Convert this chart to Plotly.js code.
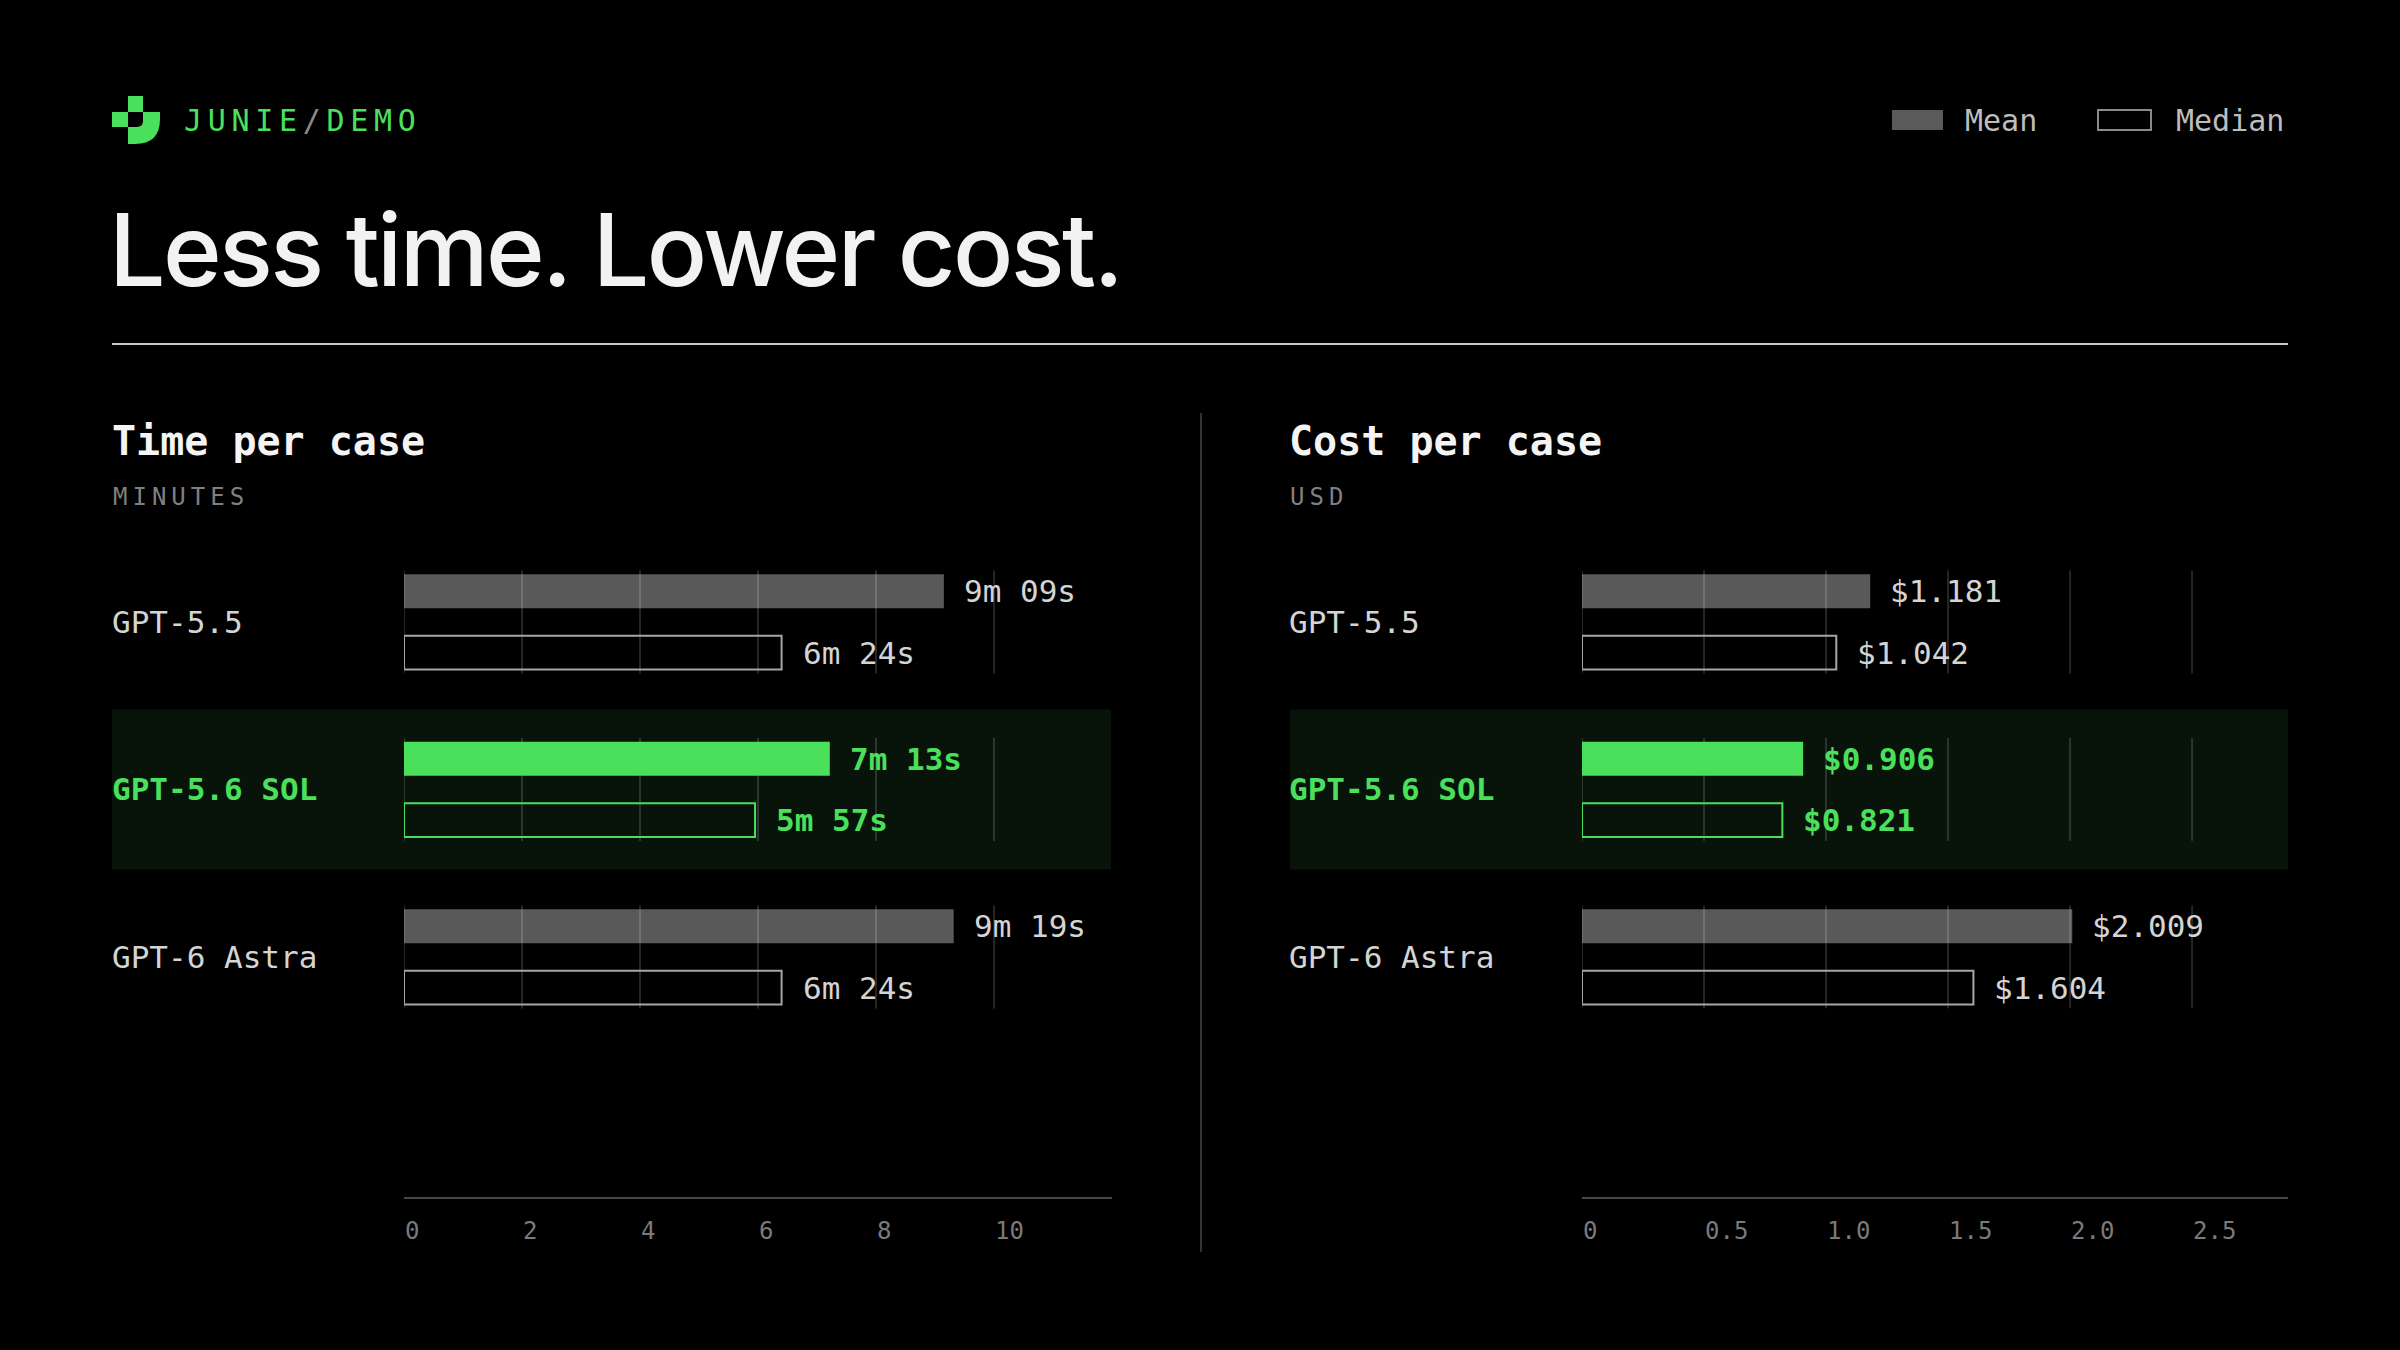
<!DOCTYPE html>
<html>
<head>
<meta charset="utf-8">
<script src="https://cdn.plot.ly/plotly-3.0.1.min.js"></script>
<style>
  html, body { margin: 0; padding: 0; background: #000; }
  #chart { width: 2400px; height: 1350px; }
</style>
</head>
<body>
<div id="chart"></div>
<script>
// ---------- data ----------
const models = ["GPT-5.5", "GPT-5.6 SOL", "GPT-6 Astra"];
const highlightModel = "GPT-5.6 SOL";
const timeMeanSec = [549, 433, 559];     // 9m09s, 7m13s, 9m19s
const timeMedianSec = [384, 357, 384];   // 6m24s, 5m57s, 6m24s
const costMean = [1.181, 0.906, 2.009];
const costMedian = [1.042, 0.821, 1.604];
const timeTicks = [0, 2, 4, 6, 8, 10];
const timeTickText = ["0", "2", "4", "6", "8", "10"];
const costTicks = [0, 0.5, 1.0, 1.5, 2.0, 2.5];
const costTickText = ["0", "0.5", "1.0", "1.5", "2.0", "2.5"];
const timeRange = [0, 12];
const costRange = [0, 2.893];

// ---------- styling ----------
const W = 2400, H = 1350;
const px = x => x / W;
const py = y => 1 - y / H;
const GREEN = "#4ae05c";
const MONO = "DejaVu Sans Mono, Liberation Mono, monospace";
const SANS = "Inter, Roboto, sans-serif";
const GRAY_FILL = "rgba(255,255,255,0.35)";
const GRAY_LINE = "#a6a6a6";
const LABEL = "#d4d4d4";
const GRID = "rgba(255,255,255,0.15)";

const hl = models.indexOf(highlightModel);
const timeMean = timeMeanSec.map(s => s / 60);
const timeMedian = timeMedianSec.map(s => s / 60);
const fmtTime = min => {
  const t = Math.round(min * 60);
  const m = Math.floor(t / 60), s = t % 60;
  return m + "m " + String(s).padStart(2, "0") + "s";
};
const fmtCost = v => "$" + v.toFixed(3);

const meanColors = models.map((m, i) => i === hl ? GREEN : GRAY_FILL);
const medianLine = models.map((m, i) => i === hl ? GREEN : GRAY_LINE);

function barTraces(meanVals, medianVals, xa, ya) {
  return [
    { type: "bar", orientation: "h", y: models, x: meanVals, xaxis: xa, yaxis: ya,
      marker: { color: meanColors, line: { width: 0 } }, hoverinfo: "skip", showlegend: false, name: "Mean" },
    { type: "bar", orientation: "h", y: models, x: medianVals, xaxis: xa, yaxis: ya,
      marker: { color: "rgba(0,0,0,0)", line: { color: medianLine, width: 2 } }, hoverinfo: "skip", showlegend: false, name: "Median" }
  ];
}

const data = [
  ...barTraces(timeMean, timeMedian, "x", "y"),
  ...barTraces(costMean, costMedian, "x2", "y2")
];

// ---------- shapes ----------
const shapes = [];
// highlight bands
[[112, 1111, "y"], [1290, 2288, "y2"]].forEach(([x0, x1, yr]) => {
  shapes.push({ type: "rect", xref: "paper", yref: yr, x0: px(x0), x1: px(x1),
    y0: hl - 0.478, y1: hl + 0.478, fillcolor: "#08130a", line: { width: 0 }, layer: "below" });
});
// per-row gridlines
function rowGrid(ticks, xr, yr) {
  ticks.forEach(t => models.forEach((m, i) => {
    shapes.push({ type: "line", xref: xr, yref: yr, x0: t, x1: t, y0: i - 0.307, y1: i + 0.307,
      line: { color: GRID, width: 2 }, layer: "below" });
  }));
}
rowGrid(timeTicks, "x", "y");
rowGrid(costTicks, "x2", "y2");
// header rule
shapes.push({ type: "line", xref: "paper", yref: "paper", x0: px(112), x1: px(2288), y0: py(344), y1: py(344),
  line: { color: "#c8c8c8", width: 2 } });
// panel divider
shapes.push({ type: "line", xref: "paper", yref: "paper", x0: px(1201), x1: px(1201), y0: py(413), y1: py(1252),
  line: { color: "#333333", width: 2 } });
// legend swatches
shapes.push({ type: "rect", xref: "paper", yref: "paper", x0: px(1892), x1: px(1943), y0: py(130), y1: py(110),
  fillcolor: "#5a5a5a", line: { width: 0 } });
shapes.push({ type: "rect", xref: "paper", yref: "paper", x0: px(2098), x1: px(2151), y0: py(130), y1: py(110),
  fillcolor: "rgba(0,0,0,0)", line: { color: "#8a8a8a", width: 2 } });
// logo
function pathStr(cmds) {
  return cmds.map(c => c[0] + " " + c.slice(1).map((v, k) => (k % 2 === 0 ? px(v) : py(v)).toFixed(5)).join(",")).join(" ");
}
shapes.push({ type: "path", xref: "paper", yref: "paper", fillcolor: GREEN, line: { width: 0 },
  path: pathStr([["M", 128, 96], ["L", 143, 96], ["L", 143, 112], ["L", 128, 112]]) + " Z" });
shapes.push({ type: "path", xref: "paper", yref: "paper", fillcolor: GREEN, line: { width: 0 },
  path: pathStr([["M", 112, 112], ["L", 128, 112], ["L", 128, 127], ["L", 112, 127]]) + " Z" });
shapes.push({ type: "path", xref: "paper", yref: "paper", fillcolor: GREEN, line: { width: 0 },
  path: pathStr([["M", 143, 112], ["L", 160, 112], ["L", 160, 119], ["Q", 160, 144, 135, 144],
    ["L", 128, 144], ["L", 128, 127], ["L", 137, 127], ["Q", 143, 127, 143, 121]]) + " Z" });

// ---------- annotations ----------
const ann = [];
const A = (o) => ann.push(Object.assign({ showarrow: false, xanchor: "left", yanchor: "middle" }, o));

A({ xref: "paper", yref: "paper", x: px(182), y: py(120),
  text: '<span style="letter-spacing:5.7px">JUNIE<span style="color:#8a8a8a">/</span>DEMO</span>',
  font: { family: MONO, size: 30, color: GREEN } });
A({ xref: "paper", yref: "paper", x: px(107), y: py(250),
  text: '<span style="letter-spacing:-2.6px">Less time. Lower cost.</span>',
  font: { family: SANS, size: 100, color: "#f2f2f2", weight: 500 } });
A({ xref: "paper", yref: "paper", x: px(1963), y: py(121), text: "Mean", font: { family: MONO, size: 30, color: "#bdbdbd" } });
A({ xref: "paper", yref: "paper", x: px(2174), y: py(121), text: "Median", font: { family: MONO, size: 30, color: "#bdbdbd" } });

[["Time per case", "MINUTES", 110], ["Cost per case", "USD", 1287]].forEach(([t, u, x]) => {
  A({ xref: "paper", yref: "paper", x: px(x), y: py(441), text: "<b>" + t + "</b>",
    font: { family: MONO, size: 40, color: "#f4f4f4" } });
  A({ xref: "paper", yref: "paper", x: px(x + 1), y: py(497),
    text: '<span style="letter-spacing:5px">' + u + '</span>',
    font: { family: MONO, size: 24, color: "#808080" } });
});

// category labels
[[110, "y"], [1287, "y2"]].forEach(([x, yr]) => {
  models.forEach((m, i) => {
    A({ xref: "paper", yref: yr, x: px(x), y: i,
      text: i === hl ? "<b>" + m + "</b>" : m,
      font: { family: MONO, size: 31, color: i === hl ? GREEN : LABEL } });
  });
});

// value labels
const OFF = 30.65;
function valueLabels(meanV, medV, fmt, xr, yr) {
  models.forEach((m, i) => {
    const col = i === hl ? GREEN : LABEL;
    const wrap = s => i === hl ? "<b>" + s + "</b>" : s;
    A({ xref: xr, yref: yr, x: meanV[i], y: i, yshift: OFF, xshift: 18, text: wrap(fmt(meanV[i])),
      font: { family: MONO, size: 31, color: col } });
    A({ xref: xr, yref: yr, x: medV[i], y: i, yshift: -OFF, xshift: 19, text: wrap(fmt(medV[i])),
      font: { family: MONO, size: 31, color: col } });
  });
}
valueLabels(timeMean, timeMedian, fmtTime, "x", "y");
valueLabels(costMean, costMedian, fmtCost, "x2", "y2");

// ---------- layout ----------
const yDomain = [py(1197), py(538.2)];
const yRange = [3.433, -0.5];
const xCommon = {
  showgrid: false, zeroline: false, showline: true, linecolor: "#474747", linewidth: 2,
  ticks: "", ticklabelposition: "outside right", ticklabelstandoff: 11,
  tickfont: { family: MONO, size: 24, color: "#7a7a7a" }, fixedrange: true, tickmode: "array"
};
const yCommon = {
  type: "category", categoryorder: "array", categoryarray: models, range: yRange, domain: yDomain,
  showgrid: false, zeroline: false, showline: false, showticklabels: false, ticks: "", fixedrange: true
};

const layout = {
  width: W, height: H,
  paper_bgcolor: "#000000", plot_bgcolor: "rgba(0,0,0,0)",
  margin: { l: 0, r: 0, t: 0, b: 0, pad: 0 },
  barmode: "group", bargap: 0.268, bargroupgap: 0.447,
  showlegend: false,
  xaxis: Object.assign({}, xCommon, { domain: [px(404), px(1112)], range: timeRange, tickvals: timeTicks, ticktext: timeTickText, anchor: "y" }),
  yaxis: Object.assign({}, yCommon, { anchor: "x" }),
  xaxis2: Object.assign({}, xCommon, { domain: [px(1582), px(2288)], range: costRange, tickvals: costTicks, ticktext: costTickText, anchor: "y2" }),
  yaxis2: Object.assign({}, yCommon, { anchor: "x2" }),
  shapes: shapes,
  annotations: ann
};

Plotly.newPlot("chart", data, layout, { staticPlot: true, displayModeBar: false });
</script>
</body>
</html>
